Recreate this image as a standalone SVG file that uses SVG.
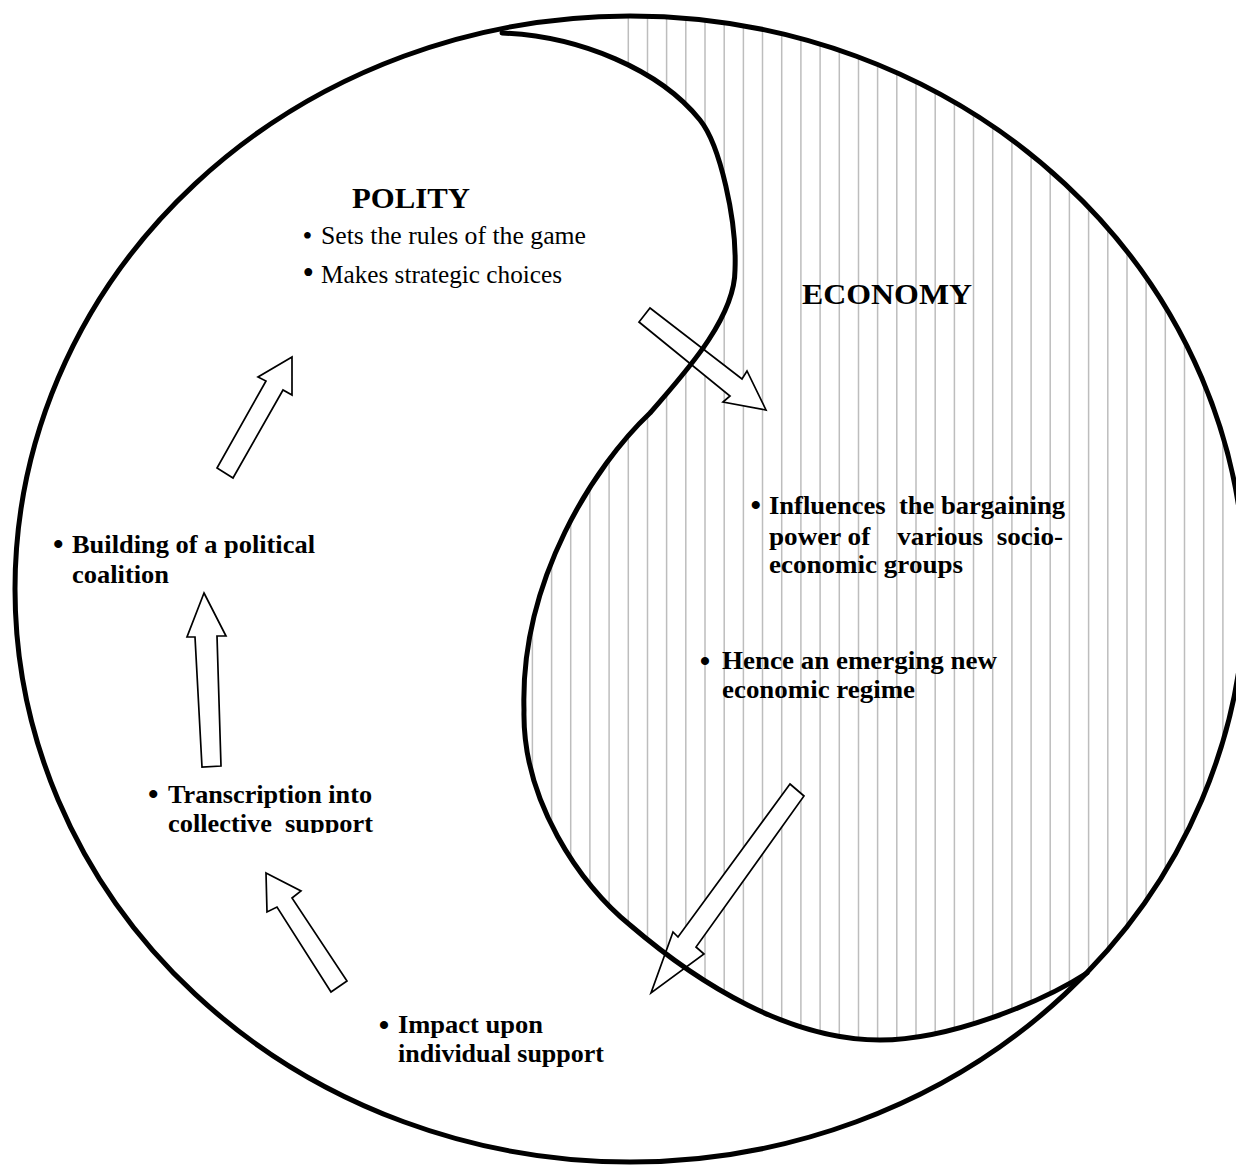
<svg xmlns="http://www.w3.org/2000/svg" width="1236" height="1165" viewBox="0 0 1236 1165">
<style>
.hatch{stroke:#bdbdbd;stroke-width:1.5;fill:none}
.line{stroke:#000;stroke-width:5;fill:none;stroke-linecap:round}
.arrow{fill:#fff;stroke:#000;stroke-width:1.7;stroke-linejoin:miter}
.t{font-family:"Liberation Serif","Times New Roman",serif;fill:#000;white-space:pre}
.r{font-size:25.5px;font-weight:normal}
.b{font-size:24.5px;font-weight:bold}
.h{font-size:30px;font-weight:bold}
.dot{font-size:30px}
</style>
<defs>
<clipPath id="econ">
<path d="M502,29 A615 573 0 0 1 1087,973 C1042,1002 950,1040 880,1040 C790,1040 700,985 630,925 C580,885 522,800 524,710 C520,580 595,465 650,413 C680,378 735,320 735,270 C737,220 720,145 700,120 C660,70 580,36 502,33 Z"/>
</clipPath>
<clipPath id="cut"><rect x="0" y="0" width="1236" height="833"/></clipPath>
</defs>
<rect width="1236" height="1165" fill="#fff"/>
<g id="economy-region">
<path class="hatch" clip-path="url(#econ)" d="M532.4 300V1165M551.6 300V1165M570.7 300V1165M589.9 300V1165M609.1 300V1165M628.3 0V1165M647.5 0V1165M666.6 0V1165M685.8 0V1165M705 0V1165M724.2 0V1165M743.4 0V1165M762.5 0V1165M781.7 0V1165M800.9 0V1165M820.1 0V1165M839.3 0V1165M858.5 0V1165M877.6 0V1165M896.8 0V1165M916 0V1165M935.2 0V1165M954.4 0V1165M973.5 0V1165M992.7 0V1165M1011.9 0V1165M1031.1 0V1165M1050.2 0V1165M1069.4 0V1165M1088.6 0V1165M1107.8 0V1165M1127 0V1165M1146.1 0V1165M1165.3 0V1165M1184.5 0V1165M1203.7 0V1165M1222.9 0V1165"/>
</g>
<g id="polity">
<text class="t h" x="352" y="208" textLength="118" lengthAdjust="spacingAndGlyphs">POLITY</text>
<text class="t r" x="302.4" y="244.7" style="font-size:28px">•</text>
<text class="t r" x="321" y="244" textLength="265" lengthAdjust="spacingAndGlyphs">Sets the rules of the game</text>
<text class="t r" x="302.5" y="284" style="font-size:33px">•</text>
<text class="t r" x="321" y="283" textLength="241" lengthAdjust="spacingAndGlyphs">Makes strategic choices</text>
</g>
<g id="economy">
<text class="t h" x="802" y="304" textLength="170" lengthAdjust="spacingAndGlyphs">ECONOMY</text>
</g>
<g id="influences">
<text class="t b dot" x="750.5" y="515.3">•</text>
<text class="t b" x="769" y="514" textLength="296" lengthAdjust="spacingAndGlyphs" xml:space="preserve">Influences  the bargaining</text>
<text class="t b" x="769" y="545" textLength="294" lengthAdjust="spacingAndGlyphs" xml:space="preserve">power of    various  socio-</text>
<text class="t b" x="769" y="573" textLength="194" lengthAdjust="spacingAndGlyphs">economic groups</text>
</g>
<g id="regime">
<text class="t b dot" x="699.8" y="671.3">•</text>
<text class="t b" x="722" y="669" textLength="275" lengthAdjust="spacingAndGlyphs">Hence an emerging new</text>
<text class="t b" x="722" y="698" textLength="193" lengthAdjust="spacingAndGlyphs">economic regime</text>
</g>
<g id="coalition">
<text class="t b dot" x="53" y="554.3">•</text>
<text class="t b" x="72" y="553" textLength="243" lengthAdjust="spacingAndGlyphs">Building of a political</text>
<text class="t b" x="72" y="583" textLength="97" lengthAdjust="spacingAndGlyphs">coalition</text>
</g>
<g id="collective">
<text class="t b dot" x="148" y="804.3">•</text>
<text class="t b" x="168" y="803" textLength="204" lengthAdjust="spacingAndGlyphs">Transcription into</text>
<text class="t b" x="168" y="832" textLength="205" lengthAdjust="spacingAndGlyphs" clip-path="url(#cut)" xml:space="preserve">collective  support</text>
</g>
<g id="individual">
<text class="t b dot" x="378.8" y="1034.6">•</text>
<text class="t b" x="398" y="1033" textLength="145" lengthAdjust="spacingAndGlyphs">Impact upon</text>
<text class="t b" x="398" y="1062" textLength="206" lengthAdjust="spacingAndGlyphs">individual support</text>
</g>
<g id="connectors">
<polygon class="arrow" points="650,308 742,379 747,371 766,410 723,402 730,396 639,322"/>
<polygon class="arrow" points="292,357 292,395 283,390 233,478 217,468 266,381 258,377"/>
<polygon class="arrow" points="204,593 226,636 217,636 221,766 202,767 195,637 187,637"/>
<polygon class="arrow" points="266,873 301,891 292,898 347,981 331,992 277,907 267,912"/>
<polygon class="arrow" points="790,784 804,796 696,947 704,954 651,993 673,932 678,937"/>
</g>
<g id="outline">
<path class="line" d="M1087,973 C1042,1002 950,1040 880,1040 C790,1040 700,985 630,925 C580,885 522,800 524,710 C520,580 595,465 650,413 C680,378 735,320 735,270 C737,220 720,145 700,120 C660,70 580,36 502,33"/>
<ellipse class="line" cx="630" cy="589" rx="615" ry="573"/>
</g>
</svg>
